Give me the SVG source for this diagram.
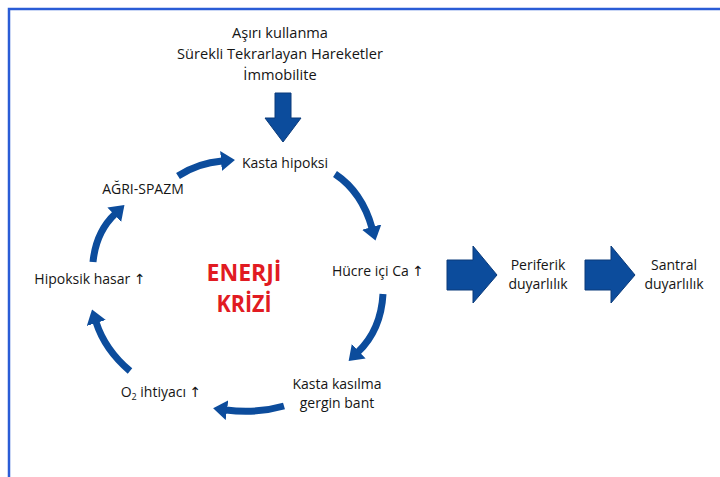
<svg xmlns="http://www.w3.org/2000/svg" width="720" height="477" viewBox="0 0 720 477">
<style>
  .t { font-family: "Open Sans", "DejaVu Sans", sans-serif; font-size: 14px; fill: #151515; text-anchor: middle; }
  .top { font-size: 14.6px; }
  .big { font-family: "Open Sans", "DejaVu Sans", sans-serif; font-size: 24px; font-weight: bold; fill: #e11b22; text-anchor: middle; }
  .arc { fill: none; stroke: #0c4c9c; stroke-width: 7; marker-end: url(#head); }
  .block { fill: #0c4c9c; stroke: #0a3a7a; stroke-width: 1; }
</style>
<defs>
  <marker id="head" markerUnits="userSpaceOnUse" markerWidth="14" markerHeight="20" viewBox="0 0 14 20" refX="1" refY="10" orient="auto">
    <path d="M0,0 L14,10 L0,20 z" fill="#0c4c9c"/>
  </marker>
</defs>
<rect width="720" height="477" fill="#ffffff"/>
<path d="M9,477 V9 H720" fill="none" stroke="#2a5cd6" stroke-width="2.5"/>

<g id="causes">
  <text class="t top" x="280" y="38">Aşırı kullanma</text>
  <text class="t top" x="280" y="59">Sürekli Tekrarlayan Hareketler</text>
  <text class="t top" x="280" y="80">İmmobilite</text>
</g>

<g id="connectors">
  <polygon class="block" points="275,93 291,93 291,118 301,118 283,142 265,118 275,118"/>
  <path class="arc" d="M178,176 Q198,163 222,161"/>
  <path class="arc" d="M335,174 Q362,192 372,228"/>
  <path class="arc" d="M383,294 Q381,330 358,352"/>
  <path class="arc" d="M284,406 Q256,414 226,410"/>
  <path class="arc" d="M130,371 Q105,350 96,322"/>
  <path class="arc" d="M93,262 Q96,232 115,214"/>
  <polygon class="block" points="447,260 473,260 473,246 497,275 473,303 473,290 447,290"/>
  <polygon class="block" points="585,260 611,260 611,246 635,275 611,303 611,290 585,290"/>
</g>

<g id="kasta-hipoksi"><text class="t" x="285" y="168">Kasta hipoksi</text></g>
<g id="agri-spazm"><text class="t" x="143" y="194">AĞRI-SPAZM</text></g>
<g id="hucre-ici-ca"><text class="t" x="378" y="276">Hücre içi Ca ↑</text></g>
<g id="kasta-kasilma">
  <text class="t" x="337" y="389">Kasta kasılma</text>
  <text class="t" x="337" y="408">gergin bant</text>
</g>
<g id="o2-ihtiyaci"><text class="t" x="161" y="397">O<tspan font-size="9" dy="3">2</tspan><tspan dy="-3"> ihtiyacı ↑</tspan></text></g>
<g id="hipoksik-hasar"><text class="t" x="90" y="284">Hipoksik hasar ↑</text></g>
<g id="enerji-krizi">
  <text class="big" x="244" y="281" textLength="75" lengthAdjust="spacingAndGlyphs">ENERJİ</text>
  <text class="big" x="244" y="312" textLength="55" lengthAdjust="spacingAndGlyphs">KRİZİ</text>
</g>
<g id="periferik">
  <text class="t" x="538" y="270">Periferik</text>
  <text class="t" x="538" y="289">duyarlılık</text>
</g>
<g id="santral">
  <text class="t" x="674" y="270">Santral</text>
  <text class="t" x="674" y="289">duyarlılık</text>
</g>
</svg>
